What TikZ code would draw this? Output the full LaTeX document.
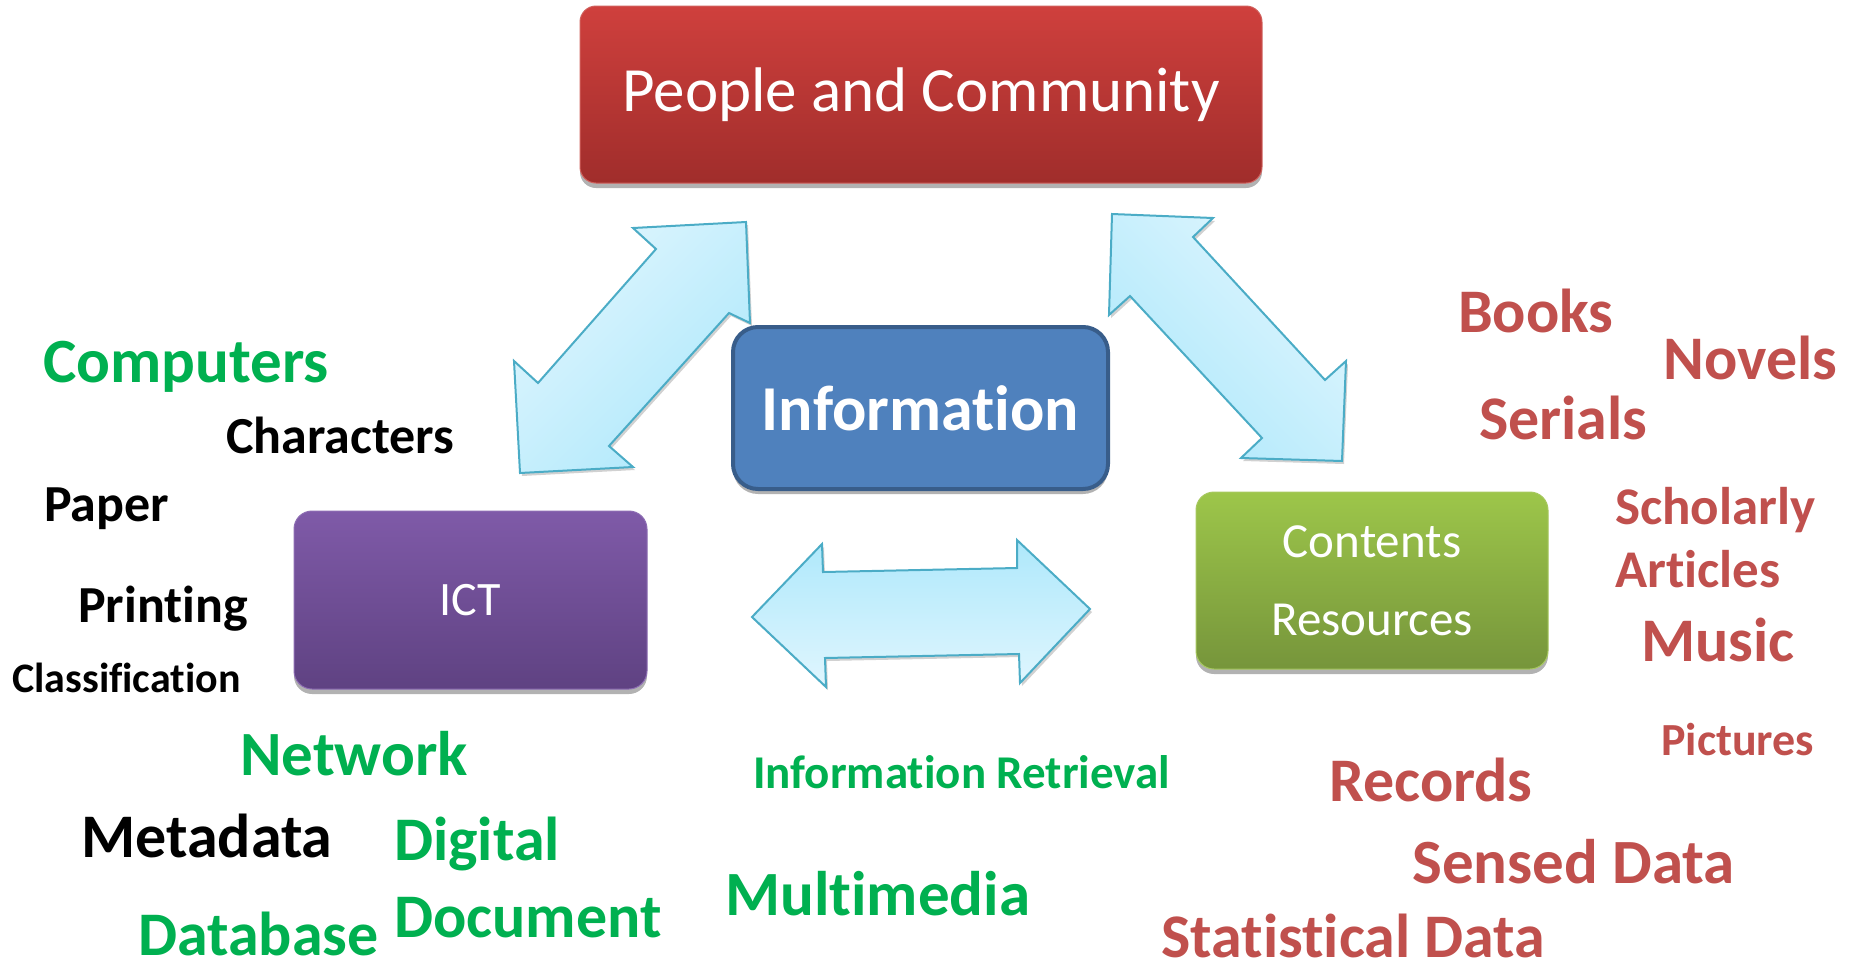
\documentclass[tikz,border=0pt]{standalone}
\usepackage{fontspec}
\setmainfont{Carlito}[Ligatures={NoCommon}]
\usetikzlibrary{shadows}
\definecolor{tgreen}{HTML}{00B050}
\definecolor{tred}{HTML}{C0504D}
\definecolor{redtop}{HTML}{CF403D}
\definecolor{redbot}{HTML}{A02D2B}
\definecolor{redline}{HTML}{D0605C}
\definecolor{infofill}{HTML}{4F81BD}
\definecolor{infoline}{HTML}{385D8A}
\definecolor{purtop}{HTML}{7F5AA8}
\definecolor{purbot}{HTML}{5F4282}
\definecolor{purline}{HTML}{8D6DB3}
\definecolor{grntop}{HTML}{9DC64A}
\definecolor{grnbot}{HTML}{76953B}
\definecolor{grnline}{HTML}{A7C85F}
\definecolor{arrlight}{HTML}{E0F6FE}
\definecolor{arrdark}{HTML}{AEE8FB}
\definecolor{arrline}{HTML}{4BACC6}
\newcommand\fsz[1]{\fontsize{#1}{#1}\selectfont}
\begin{document}
\begin{tikzpicture}[x=1pt,y=-1pt,
  boxbase/.style={rectangle, inner sep=0pt, text=white,
    drop shadow={shadow xshift=0pt, shadow yshift=-5pt, opacity=0.3, fill=black}},
  arr/.style={draw=arrline, line width=2pt, line join=miter,
    drop shadow={shadow xshift=2pt, shadow yshift=-3pt, opacity=0.18, fill=black}},
  gtxt/.style={anchor=base west, inner sep=0pt, text=tgreen},
  rtxt/.style={anchor=base west, inner sep=0pt, text=tred},
  ktxt/.style={anchor=base west, inner sep=0pt, text=black}]
\useasboundingbox (0,0) rectangle (1856,967);

% boxes
\node[boxbase, rounded corners=16pt, top color=redtop, bottom color=redbot,
  draw=redline, line width=1pt, minimum width=682pt, minimum height=177pt,
  font=\fsz{63}] (people) at (921,94.5) {People and Community};
\node[boxbase, rounded corners=25pt, fill=infofill, draw=infoline, line width=4pt,
  minimum width=375pt, minimum height=162pt, font=\fsz{64}\bfseries]
  (info) at (920.5,408) {Information};
\node[boxbase, rounded corners=18pt, top color=purtop, bottom color=purbot,
  draw=purline, line width=1pt, minimum width=353pt, minimum height=178pt,
  font=\fsz{48}] (ict) at (470.5,600) {ICT};
\node[boxbase, rounded corners=18pt, top color=grntop, bottom color=grnbot,
  draw=grnline, line width=1pt, minimum width=352pt, minimum height=177pt,
  align=center, font=\fontsize{49}{78}\selectfont] (content) at (1372,580.5)
  {Contents\\Resources};

% block arrows
\draw[arr, top color=arrlight, bottom color=arrdark, shading angle=45]
  (746,222) -- (633,228) -- (656,249) -- (538,383) -- (514,361) -- (520,473)
  -- (633,467) -- (609,446) -- (729,313) -- (750,323) -- cycle;
\draw[arr, top color=arrlight, bottom color=arrdark, shading angle=-45]
  (1112,214) -- (1213,218) -- (1193,237) -- (1325,380) -- (1346,361) -- (1342,461)
  -- (1241,458) -- (1262,438) -- (1130,296) -- (1109,315) -- cycle;
\draw[arr, top color=arrdark, bottom color=arrlight]
  (752,617) -- (822,544) -- (823,572) -- (1017,568) -- (1017,540) -- (1090,609)
  -- (1020,683) -- (1019,654) -- (825,658) -- (826,687) -- cycle;

% left labels
\node[gtxt, font=\fsz{63}\bfseries] (computers) at (43,382) {Computers};
\node[ktxt, font=\fsz{52}\bfseries] (characters) at (226,453) {Characters};
\node[ktxt, font=\fsz{52}\bfseries] (paper) at (44,521) {Paper};
\node[ktxt, font=\fsz{52}\bfseries] (printing) at (78,622) {Printing};
\node[ktxt, font=\fsz{42}\bfseries] (classification) at (12,692) {Classification};
\node[gtxt, font=\fsz{63}\bfseries] (network) at (240,775) {Network};
\node[ktxt, font=\fsz{62}\bfseries] (metadata) at (81,857) {Metadata};
\node[gtxt, font=\fsz{62}\bfseries] (digital) at (394,860) {Digital};
\node[gtxt, font=\fsz{62}\bfseries] (database) at (138,955) {Database};
\node[gtxt, font=\fsz{62}\bfseries] (document) at (394,937) {Document};

% middle labels
\node[gtxt, font=\fsz{47}\bfseries] (retrieval) at (753,788) {Information Retrieval};
\node[gtxt, font=\fsz{63}\bfseries] (multimedia) at (725,915) {Multimedia};

% right labels
\node[rtxt, font=\fsz{62}\bfseries] (books) at (1458,332) {Books};
\node[rtxt, font=\fsz{62}\bfseries] (novels) at (1663,379) {Novels};
\node[rtxt, font=\fsz{62}\bfseries] (serials) at (1479,439) {Serials};
\node[rtxt, font=\fsz{53}\bfseries] (scholarly) at (1615,524) {Scholarly};
\node[rtxt, font=\fsz{53}\bfseries] (articles) at (1615,587) {Articles};
\node[rtxt, font=\fsz{62}\bfseries] (music) at (1641,661) {Music};
\node[rtxt, font=\fsz{46}\bfseries] (pictures) at (1661,755) {Pictures};
\node[rtxt, font=\fsz{62}\bfseries] (records) at (1329,801) {Records};
\node[rtxt, font=\fsz{63}\bfseries] (sensed) at (1412,883) {Sensed Data};
\node[rtxt, font=\fsz{62}\bfseries] (statistical) at (1161,957) {Statistical Data};
\end{tikzpicture}
\end{document}
